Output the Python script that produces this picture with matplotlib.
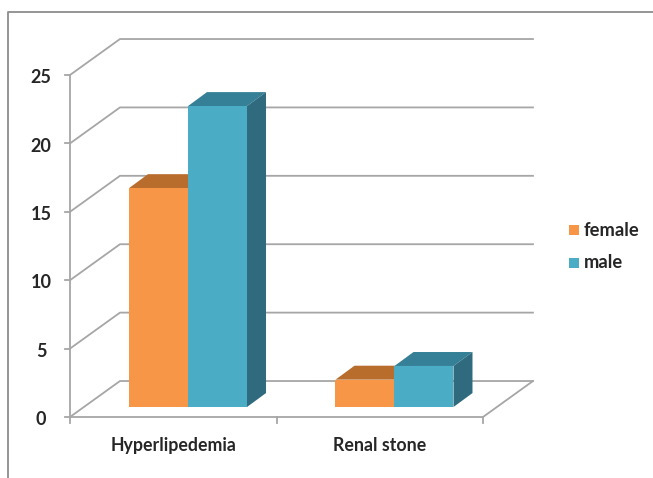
import matplotlib
matplotlib.use('Agg')
import matplotlib.pyplot as plt
from matplotlib.lines import Line2D
from matplotlib.patches import Polygon, Rectangle

# values
categories = ['Hyperlipedemia', 'Renal stone']
series_names = ['female', 'male']
female = [16, 2]
male = [22, 3]
y_ticks = [0, 5, 10, 15, 20, 25]

W, H = 653, 478
GRID = '#a6a6a6'
TXT = '#262626'
colors = {'female': ('#f79646', '#b96d2c', '#b96d2c'),
          'male': ('#4bacc6', '#358096', '#2f6a7e')}

plt.rcParams['font.family'] = ['Lato', 'DejaVu Sans']

fig = plt.figure(figsize=(W / 100, H / 100), dpi=100)
# axes = front plane of the 3d box
ax = fig.add_axes([70 / W, 1 - 417 / H, 413 / W, 342 / H])
ax.set_xlim(0, 2)
ax.set_ylim(0, 25)
ax.axis('off')

# depth of the box and of the bars, data units
box_dx, box_dy = 0.242, 2.63
bar_w = 0.2857
bar_shift = 0.0714
bar_lift = 0.73
bar_dx, bar_dy = 0.092, 1.02


def line(xs, ys, lw=1.3, color=GRID, zorder=1):
    ax.add_line(Line2D(xs, ys, color=color, lw=lw, zorder=zorder, clip_on=False))


# walls
for v in y_ticks:
    line([0, box_dx, 2 + box_dx], [v, v + box_dy, v + box_dy])
    line([-0.025, 0], [v, v])
    ax.text(-0.14, v - 0.2, str(v), ha='center', va='center', fontsize=13,
            fontweight='bold', color=TXT)
line([0, 0], [-0.45, 25])
line([0, 2], [0, 0])
line([2, 2 + box_dx], [0, box_dy])
for x in [1, 2]:
    line([x, x], [-0.45, 0])


def bar3d(x0, v, name):
    front, top, side = colors[name]
    y0 = bar_lift
    y1 = bar_lift + v
    x1 = x0 + bar_w
    ax.add_patch(Polygon([(x0, y1), (x1, y1), (x1 + bar_dx, y1 + bar_dy), (x0 + bar_dx, y1 + bar_dy)],
                         fc=top, ec='none', zorder=3, clip_on=False))
    ax.add_patch(Polygon([(x1, y0), (x1 + bar_dx, y0 + bar_dy), (x1 + bar_dx, y1 + bar_dy), (x1, y1)],
                         fc=side, ec='none', zorder=3, clip_on=False))
    ax.add_patch(Rectangle((x0, y0), bar_w, v, fc=front, ec='none', zorder=4, clip_on=False))


for i, cat in enumerate(categories):
    c = i + 0.5 + bar_shift
    bar3d(c - bar_w, female[i], 'female')
    bar3d(c, male[i], 'male')
    ax.text(i + 0.5, -2.1, cat, ha='center', va='center', fontsize=12.8,
            fontweight='bold', color=TXT)

# legend and picture frame, in pixels of the figure
fa = fig.add_axes([0, 0, 1, 1], zorder=-1)
fa.set_xlim(0, W)
fa.set_ylim(H, 0)
fa.axis('off')
fa.plot([7.5, 7.5, W], [H, 12, 12], color='#8c8c8c', lw=1.3)

la = fig.add_axes([0, 0, 1, 1], zorder=5)
la.set_xlim(0, W)
la.set_ylim(H, 0)
la.axis('off')
for name, ypos in zip(series_names, [230, 263]):
    la.add_patch(Rectangle((569, ypos - 5), 10, 10, fc=colors[name][0], ec='none'))
    la.text(584, ypos, name, ha='left', va='center', fontsize=13.2,
            fontweight='bold', color=TXT)

fig.savefig('out.png', dpi=100)
